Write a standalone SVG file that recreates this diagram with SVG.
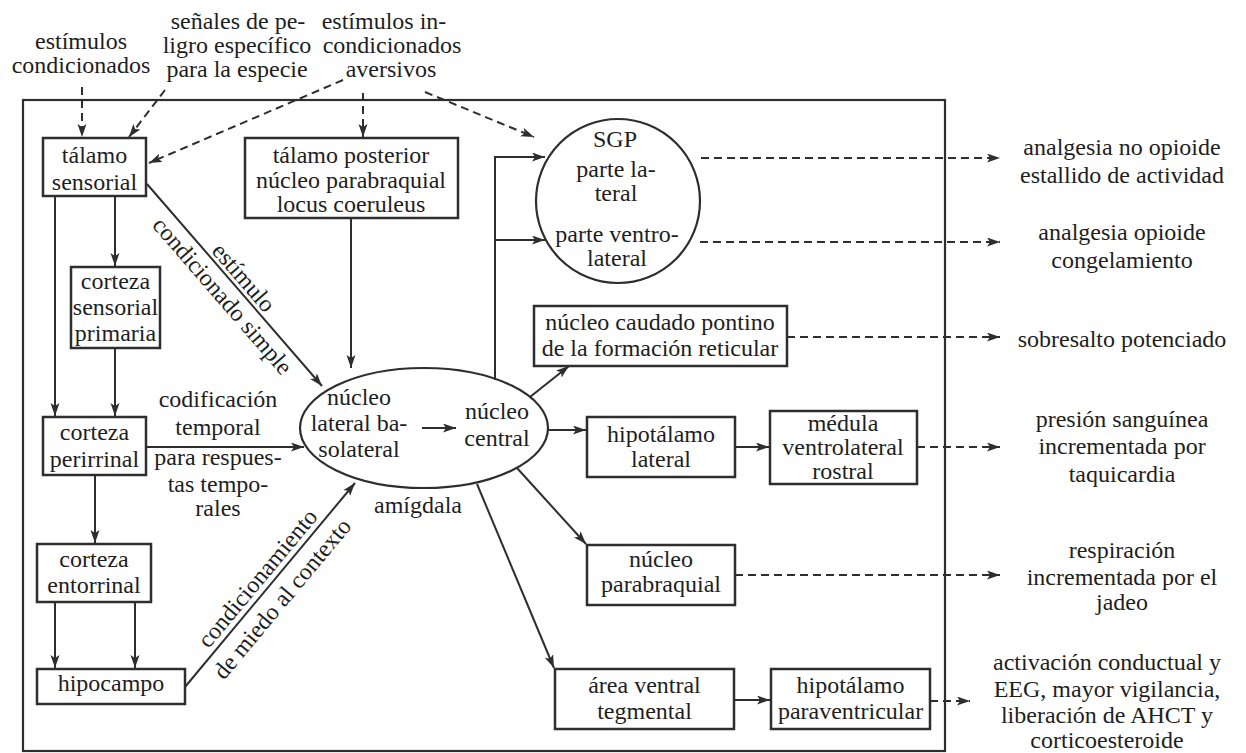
<svg xmlns="http://www.w3.org/2000/svg" width="1246" height="753" viewBox="0 0 1246 753" font-family="'Liberation Serif', 'DejaVu Serif', 'Times New Roman', serif">
<style>
text{font-family:'Liberation Serif','DejaVu Serif','Times New Roman',serif;font-size:24px;fill:#1e1e1e;text-anchor:middle}
.box{fill:#fff;stroke:#2e2e2e;stroke-width:2.5}
.ln{fill:none;stroke:#2e2e2e;stroke-width:2}
.ds{fill:none;stroke:#2e2e2e;stroke-width:2;stroke-dasharray:8 5}
.frame{fill:#fff;stroke:#2e2e2e;stroke-width:2.2}
</style>
<defs>
<marker id="ah" markerUnits="userSpaceOnUse" markerWidth="14" markerHeight="10" refX="13" refY="4.5" orient="auto">
<path d="M0,0 L13,4.5 L0,9 L3,4.5 z" fill="#2e2e2e"/>
</marker>
</defs>
<rect width="1246" height="753" fill="#fff"/>
<rect class="frame" x="23" y="100" width="922" height="651"/>

<g id="top-labels">
<text x="81" y="49">estímulos</text>
<text x="81" y="73">condicionados</text>
<text x="238" y="29">señales de pe-</text>
<text x="237" y="53">ligro específico</text>
<text x="237" y="77">para la especie</text>
<text x="384" y="29">estímulos in-</text>
<text x="392" y="53">condicionados</text>
<text x="391" y="77">aversivos</text>
</g>

<g id="connectors">
<line class="ds" x1="82" y1="87" x2="82" y2="137" marker-end="url(#ah)"/>
<line class="ds" x1="165" y1="90" x2="129" y2="137" marker-end="url(#ah)"/>
<line class="ds" x1="343" y1="80" x2="149" y2="163" marker-end="url(#ah)"/>
<line class="ds" x1="363" y1="93" x2="363" y2="137" marker-end="url(#ah)"/>
<line class="ds" x1="425" y1="92" x2="534" y2="137" marker-end="url(#ah)"/>
<line class="ln" x1="115" y1="196" x2="115" y2="266" marker-end="url(#ah)"/>
<line class="ln" x1="55" y1="196" x2="55" y2="416" marker-end="url(#ah)"/>
<line class="ln" x1="115" y1="348" x2="115" y2="416" marker-end="url(#ah)"/>
<line class="ln" x1="147" y1="184" x2="322" y2="386" marker-end="url(#ah)"/>
<line class="ln" x1="146" y1="447" x2="304" y2="447" marker-end="url(#ah)"/>
<line class="ln" x1="95" y1="475" x2="95" y2="543" marker-end="url(#ah)"/>
<line class="ln" x1="55" y1="602" x2="55" y2="668" marker-end="url(#ah)"/>
<line class="ln" x1="135" y1="602" x2="135" y2="668" marker-end="url(#ah)"/>
<line class="ln" x1="185" y1="687" x2="355" y2="483" marker-end="url(#ah)"/>
<line class="ln" x1="351" y1="219" x2="351" y2="368" marker-end="url(#ah)"/>
<line class="ln" x1="422" y1="428" x2="456" y2="428" marker-end="url(#ah)"/>
<polyline class="ln" points="495,380 495,157 545,157" marker-end="url(#ah)"/>
<line class="ln" x1="495" y1="240" x2="545" y2="240" marker-end="url(#ah)"/>
<line class="ln" x1="530" y1="397" x2="569" y2="366" marker-end="url(#ah)"/>
<line class="ln" x1="547" y1="430" x2="586" y2="430" marker-end="url(#ah)"/>
<line class="ln" x1="735" y1="447" x2="769" y2="447" marker-end="url(#ah)"/>
<line class="ln" x1="517" y1="468" x2="586" y2="544" marker-end="url(#ah)"/>
<line class="ln" x1="477" y1="484" x2="554" y2="668" marker-end="url(#ah)"/>
<line class="ln" x1="734" y1="700" x2="770" y2="700" marker-end="url(#ah)"/>
<line class="ds" x1="701" y1="158" x2="1000" y2="158" marker-end="url(#ah)"/>
<line class="ds" x1="700" y1="242" x2="1000" y2="242" marker-end="url(#ah)"/>
<line class="ds" x1="787" y1="337" x2="1000" y2="337" marker-end="url(#ah)"/>
<line class="ds" x1="917" y1="447" x2="1000" y2="447" marker-end="url(#ah)"/>
<line class="ds" x1="735" y1="575" x2="1000" y2="575" marker-end="url(#ah)"/>
<line class="ds" x1="930" y1="701" x2="970" y2="701" marker-end="url(#ah)"/>
<g transform="translate(147,184) rotate(49.1)">
<text x="134" y="-4">estímulo</text>
<text x="134" y="24">condicionado simple</text>
</g>
<g transform="translate(185,687) rotate(-50.2)">
<text x="130" y="-6">condicionamiento</text>
<text x="130" y="26">de miedo al contexto</text>
</g>
<text x="218" y="407">codificación</text>
<text x="218" y="435">temporal</text>
<text x="218" y="465">para respues-</text>
<text x="218" y="492">tas tempo-</text>
<text x="218" y="516">rales</text>
</g>

<g id="talamo-sensorial">
<rect class="box" x="43" y="138" width="103" height="58"/>
<text x="94.5" y="163">tálamo</text>
<text x="94.5" y="190">sensorial</text>
</g>
<g id="talamo-posterior">
<rect class="box" x="245" y="138" width="213" height="80"/>
<text x="351" y="163">tálamo posterior</text>
<text x="351" y="188">núcleo parabraquial</text>
<text x="351" y="212">locus coeruleus</text>
</g>
<g id="corteza-sensorial">
<rect class="box" x="71" y="267" width="89" height="81"/>
<text x="115.5" y="289">corteza</text>
<text x="115.5" y="315">sensorial</text>
<text x="115.5" y="341">primaria</text>
</g>
<g id="corteza-perirrinal">
<rect class="box" x="43" y="417" width="103" height="58"/>
<text x="94.5" y="440">corteza</text>
<text x="94.5" y="467">perirrinal</text>
</g>
<g id="corteza-entorrinal">
<rect class="box" x="37" y="544" width="114" height="58"/>
<text x="94" y="567">corteza</text>
<text x="94" y="593">entorrinal</text>
</g>
<g id="hipocampo">
<rect class="box" x="37" y="669" width="148" height="35"/>
<text x="111" y="691">hipocampo</text>
</g>
<g id="amigdala">
<ellipse cx="424" cy="428" rx="124" ry="60" fill="none" stroke="#2e2e2e" stroke-width="2.2"/>
<text x="359" y="405">núcleo</text>
<text x="359" y="431">lateral ba-</text>
<text x="359" y="457">solateral</text>
<text x="497" y="419">núcleo</text>
<text x="497" y="446">central</text>
<text x="418" y="513">amígdala</text>
</g>
<g id="sgp">
<circle cx="618" cy="201" r="82" fill="none" stroke="#2e2e2e" stroke-width="2.2"/>
<text x="615" y="147">SGP</text>
<text x="616" y="177">parte la-</text>
<text x="616" y="201">teral</text>
<text x="617" y="242">parte ventro-</text>
<text x="617" y="266">lateral</text>
</g>
<g id="nucleo-caudado">
<rect class="box" x="534" y="306" width="253" height="60"/>
<text x="660" y="330">núcleo caudado pontino</text>
<text x="660" y="356">de la formación reticular</text>
</g>
<g id="hipotalamo-lateral">
<rect class="box" x="587" y="417" width="148" height="60"/>
<text x="661" y="442">hipotálamo</text>
<text x="661" y="467">lateral</text>
</g>
<g id="medula">
<rect class="box" x="770" y="411" width="147" height="73"/>
<text x="843" y="431">médula</text>
<text x="843" y="455">ventrolateral</text>
<text x="843" y="479">rostral</text>
</g>
<g id="nucleo-parabraquial">
<rect class="box" x="587" y="545" width="148" height="60"/>
<text x="661" y="567">núcleo</text>
<text x="661" y="592">parabraquial</text>
</g>
<g id="area-ventral">
<rect class="box" x="555" y="669" width="179" height="60"/>
<text x="644.5" y="693">área ventral</text>
<text x="644.5" y="719">tegmental</text>
</g>
<g id="hipotalamo-paraventricular">
<rect class="box" x="771" y="669" width="159" height="60"/>
<text x="850.5" y="693">hipotálamo</text>
<text x="850.5" y="719">paraventricular</text>
</g>

<g id="outputs">
<text x="1122" y="155">analgesia no opioide</text>
<text x="1122" y="183">estallido de actividad</text>
<text x="1122" y="240">analgesia opioide</text>
<text x="1122" y="268">congelamiento</text>
<text x="1122" y="347">sobresalto potenciado</text>
<text x="1122" y="427">presión sanguínea</text>
<text x="1122" y="454">incrementada por</text>
<text x="1122" y="482">taquicardia</text>
<text x="1122" y="558">respiración</text>
<text x="1122" y="585">incrementada por el</text>
<text x="1122" y="610">jadeo</text>
<text x="1107" y="670">activación conductual y</text>
<text x="1107" y="697">EEG, mayor vigilancia,</text>
<text x="1107" y="723">liberación de AHCT y</text>
<text x="1107" y="748">corticoesteroide</text>
</g>
</svg>
